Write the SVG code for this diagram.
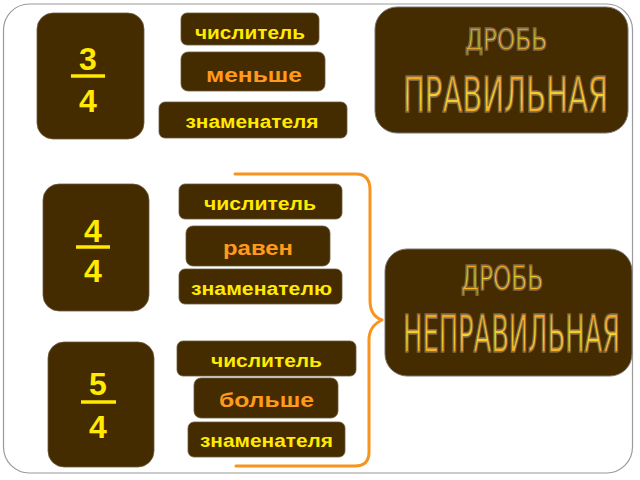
<svg xmlns="http://www.w3.org/2000/svg" width="640" height="480" viewBox="0 0 640 480">
<defs>
<linearGradient id="wa" x1="0" y1="0" x2="0" y2="1">
<stop offset="0" stop-color="#F08A1C"/>
<stop offset="0.55" stop-color="#FFD42A"/>
<stop offset="1" stop-color="#F08A1C"/>
</linearGradient>
</defs>
<style>
.box{fill:#452B00;stroke:#6b5a40;stroke-width:0.8}
.lbl{font-family:"Liberation Sans",Arial,sans-serif;font-weight:bold;fill:#FFEA00;text-anchor:middle}
.cmp{font-family:"Liberation Sans",Arial,sans-serif;font-weight:bold;fill:#FF9A1A;text-anchor:middle}
.num{font-family:"Liberation Sans",Arial,sans-serif;font-weight:bold;fill:#FFEA00;text-anchor:middle;font-size:32px}
.bar{stroke:#FFEA00;stroke-width:3.5}
.big{fill:#452B00;stroke:#777;stroke-width:1}
.wa{font-family:"DejaVu Sans Condensed","Liberation Sans Narrow","Liberation Sans",sans-serif;font-stretch:condensed;fill:url(#wa);stroke:#7A6A4A;stroke-width:1.5;text-anchor:middle}
.brace{fill:none;stroke:#F7941D;stroke-width:3;stroke-linecap:round;stroke-linejoin:round}
</style>
<rect x="3.5" y="4" width="629" height="469" rx="26" fill="#fff" stroke="#9a9a9a" stroke-width="1.2"/>

<g id="frac1">
<rect class="box" x="37" y="13" width="107" height="126" rx="16"/>
<text class="num" x="88" y="70">3</text>
<line class="bar" x1="71" y1="76" x2="105" y2="76"/>
<text class="num" x="88" y="112">4</text>
</g>
<g id="l1a"><rect class="box" x="181" y="13" width="138" height="32" rx="6"/><text class="lbl" x="250" y="39" font-size="18" textLength="110" lengthAdjust="spacingAndGlyphs">числитель</text></g>
<g id="l1b"><rect class="box" x="181" y="52" width="144" height="39" rx="7"/><text class="cmp" x="254" y="82" font-size="20" textLength="96" lengthAdjust="spacingAndGlyphs">меньше</text></g>
<g id="l1c"><rect class="box" x="159" y="102" width="188" height="36" rx="6"/><text class="lbl" x="252" y="128" font-size="18" textLength="133" lengthAdjust="spacingAndGlyphs">знаменателя</text></g>

<g id="title1">
<rect class="big" x="375" y="7" width="253" height="126" rx="22"/>
<text class="wa" transform="translate(506 50) scale(0.72 1)" x="0" y="0" font-size="30" textLength="114" lengthAdjust="spacingAndGlyphs">ДРОБЬ</text>
<text class="wa" transform="translate(505.5 112) scale(0.72 1)" x="0" y="0" font-size="50" textLength="285" lengthAdjust="spacingAndGlyphs">ПРАВИЛЬНАЯ</text>
</g>

<g id="frac2">
<rect class="box" x="43" y="184" width="106" height="127" rx="16"/>
<text class="num" x="93" y="242">4</text>
<line class="bar" x1="76" y1="247" x2="110" y2="247"/>
<text class="num" x="93" y="282">4</text>
</g>
<g id="l2a"><rect class="box" x="179" y="184" width="163" height="35" rx="6"/><text class="lbl" x="260" y="210" font-size="18" textLength="112" lengthAdjust="spacingAndGlyphs">числитель</text></g>
<g id="l2b"><rect class="box" x="186" y="226" width="144" height="40" rx="7"/><text class="cmp" x="258" y="255" font-size="20" textLength="70" lengthAdjust="spacingAndGlyphs">равен</text></g>
<g id="l2c"><rect class="box" x="179" y="269" width="163" height="35" rx="6"/><text class="lbl" x="261.5" y="295" font-size="18" textLength="141" lengthAdjust="spacingAndGlyphs">знаменателю</text></g>

<g id="title2">
<rect class="big" x="385" y="249" width="247" height="127" rx="22"/>
<text class="wa" transform="translate(502 290) scale(0.72 1)" x="0" y="0" font-size="34" textLength="114" lengthAdjust="spacingAndGlyphs">ДРОБЬ</text>
<text class="wa" transform="translate(511.5 352) scale(0.62 1.06)" x="0" y="0" font-size="48" textLength="350" lengthAdjust="spacingAndGlyphs">НЕПРАВИЛЬНАЯ</text>
</g>

<g id="frac3">
<rect class="box" x="48" y="342" width="106" height="125" rx="16"/>
<text class="num" x="98" y="395">5</text>
<line class="bar" x1="81" y1="402" x2="116" y2="402"/>
<text class="num" x="98" y="438">4</text>
</g>
<g id="l3a"><rect class="box" x="177" y="341" width="179" height="35" rx="6"/><text class="lbl" x="266.5" y="367" font-size="18" textLength="111" lengthAdjust="spacingAndGlyphs">числитель</text></g>
<g id="l3b"><rect class="box" x="194" y="378" width="144" height="40" rx="7"/><text class="cmp" x="266.5" y="407" font-size="20" textLength="95" lengthAdjust="spacingAndGlyphs">больше</text></g>
<g id="l3c"><rect class="box" x="188" y="422" width="157" height="35" rx="6"/><text class="lbl" x="266.5" y="447" font-size="18" textLength="133" lengthAdjust="spacingAndGlyphs">знаменателя</text></g>

<g id="connectors">
<path class="brace" d="M235 174 H356 Q370 174 370 190 V300 Q370 316 382 320 Q369 326 369 340 V452 Q369 466 355 466 H236"/>
</g>
</svg>
